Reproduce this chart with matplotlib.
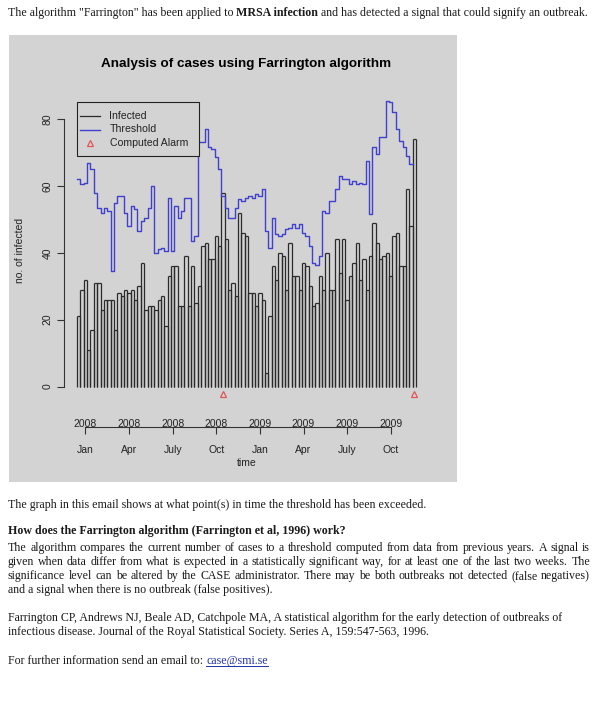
import numpy as np
import matplotlib
matplotlib.use('Agg')
from matplotlib import pyplot as plt
from matplotlib.lines import Line2D
from matplotlib.patches import Rectangle

# Weekly data (week index 0 = first week shown)
weeks = np.arange(101)
infected = [21, 29, 32, 11, 17, 31, 31, 23, 26, 26,
            26, 17, 28, 27, 29, 28, 29, 26, 30, 37,
            23, 24, 24, 23, 26, 27, 18, 33, 36, 36,
            24, 24, 39, 24, 36, 25, 30, 42, 43, 38,
            38, 45, 42, 58, 44, 29, 31, 27, 52, 46,
            45, 28, 28, 24, 28, 26, 4, 21, 36, 32,
            40, 39, 29, 43, 33, 33, 29, 37, 36, 30,
            24, 25, 33, 29, 40, 29, 29, 44, 34, 44,
            26, 33, 37, 43, 32, 38, 29, 39, 49, 43,
            38, 39, 40, 33, 45, 46, 36, 36, 59, 48,
            74]
threshold = [62, 60.5, 61, 67, 65, 58, 53.5, 52, 53.5, 52.5,
             34.5, 55, 57, 57, 52, 48, 54, 53, 46.5, 49.5,
             50.5, 53.5, 60, 40, 41, 41.5, 40.5, 56.5, 40.5, 54,
             50.5, 52.5, 56.5, 56.5, 43.5, 45, 73, 73, 77, 71.5,
             71, 68.5, 65, 57, 53.5, 50.5, 50.5, 53.5, 56, 55.5,
             56.5, 57, 56.5, 57.5, 57, 59, 46.5, 41.5, 50.5, 45.5,
             45, 45.5, 47, 47.5, 48.5, 47.5, 48.5, 46, 45, 42,
             37, 36.5, 39, 52.5, 52, 55.5, 55.5, 59, 63, 62,
             62, 60.5, 61.5, 60.5, 61, 60.5, 67.5, 51.5, 71.5, 69.5,
             74.5, 74.5, 85.5, 85, 82, 77, 73.5, 71.5, 69, 66.5,
             66.5]
alarm_weeks = [43, 100]

# Time axis
tick_weeks = [2, 15, 28, 41, 54, 67, 80, 93]
month_labels = ['Jan', 'Apr', 'July', 'Oct', 'Jan', 'Apr', 'July', 'Oct']
year_labels = ['2008', '2008', '2008', '2008', '2009', '2009', '2009', '2009']

legend_labels = ['Infected', 'Threshold', 'Computed Alarm']

W, H = 600, 707
fx = lambda px: px / W
fy = lambda py: 1 - py / H

sans = 'Liberation Sans'
serif = 'Liberation Serif'
grey = '#d3d3d3'
bar_col = '#2a2a2a'
thr_col = '#3f3fd0'
alarm_col = '#e05555'

fig = plt.figure(figsize=(W / 100, H / 100), dpi=100)
fig.patch.set_facecolor('white')

# Grey panel behind the R chart
fig.add_artist(Rectangle((fx(9), fy(482)), (457 - 9) / W, (482 - 35) / H,
                         transform=fig.transFigure, facecolor=grey,
                         edgecolor='none', zorder=0))

ax = fig.add_axes([fx(63.5), fy(398), (429.5 - 63.5) / W, (398 - 89.2) / H])
ax.set_facecolor('none')
ax.set_xlim(-4.54, 104.54)
ax.set_ylim(-3.42, 88.92)

# Infected: outlined weekly bars
x = np.array(weeks)
ax.vlines(x - 0.5, 0, infected, color=bar_col, lw=0.9)
ax.vlines(x + 0.5, 0, infected, color=bar_col, lw=0.9)
ax.hlines(infected, x - 0.5, x + 0.5, color=bar_col, lw=0.9)

# Threshold as a step line
ax.plot(x - 0.5, threshold, drawstyle='steps-post', color=thr_col, lw=1.0)

# Alarms
ax.plot(alarm_weeks, [-2.3] * len(alarm_weeks), linestyle='none', marker='^',
        markersize=5, markerfacecolor='none', markeredgecolor=alarm_col, mew=0.9)

for s in ['top', 'right', 'bottom']:
    ax.spines[s].set_visible(False)
ax.spines['left'].set_bounds(0, 80)
ax.spines['left'].set_color('#333333')
ax.set_xticks([])
ax.set_yticks([0, 20, 40, 60, 80])
ax.tick_params(axis='y', length=5, width=0.8, color='#333333', pad=3,
               labelsize=7.5, labelcolor='#222222')
for lab in ax.get_yticklabels():
    lab.set_rotation(90)
    lab.set_va('center')
    lab.set_family(sans)

ax.set_title('Analysis of cases using Farrington algorithm', fontsize=9.7,
             fontweight='bold', family=sans, pad=0, y=(398 - 67.5) / (398 - 89.2))

# Legend box drawn by hand (R style, opaque, top left)
fig.add_artist(Rectangle((fx(76.7), fy(155.7)), (199 - 76.7) / W, (155.7 - 101.7) / H,
                         transform=fig.transFigure, facecolor=grey,
                         edgecolor='#222222', lw=0.8, zorder=5))
row_y = [116, 129.5, 143]
fig.add_artist(Line2D([fx(80), fx(100)], [fy(row_y[0])] * 2, transform=fig.transFigure,
                      color=bar_col, lw=0.9, zorder=6))
fig.add_artist(Line2D([fx(80), fx(100)], [fy(row_y[1])] * 2, transform=fig.transFigure,
                      color=thr_col, lw=1.0, zorder=6))
fig.add_artist(Line2D([fx(90)], [fy(row_y[2])], transform=fig.transFigure,
                      linestyle='none', marker='^', markersize=5,
                      markerfacecolor='none', markeredgecolor=alarm_col, mew=0.9, zorder=6))
for ry, lbl in zip(row_y, legend_labels):
    fig.text(fx(109.5), fy(ry), lbl, va='center', ha='left', family=sans,
             fontsize=7.6, color='#222222', zorder=6)

# Time axis below the bars
ax2 = fig.add_axes([fx(63.5), fy(427.3), (429.5 - 63.5) / W, 0.0001])
ax2.set_facecolor('none')
ax2.set_xlim(ax.get_xlim())
ax2.set_yticks([])
for s in ['top', 'right', 'left']:
    ax2.spines[s].set_visible(False)
ax2.spines['bottom'].set_bounds(tick_weeks[0], tick_weeks[-1])
ax2.spines['bottom'].set_color('#333333')
ax2.set_xticks(tick_weeks)
ax2.set_xticklabels(month_labels, family=sans, fontsize=7.5, color='#222222')
ax2.tick_params(axis='x', length=5, width=0.8, color='#333333', pad=8)
tr = matplotlib.transforms.blended_transform_factory(ax2.transData, fig.transFigure)
for w, yl in zip(tick_weeks, year_labels):
    ax2.text(w, fy(427), yl, transform=tr, ha='center', va='baseline',
             family=sans, fontsize=7.5, color='#222222')

fig.text(fx(246.5), fy(462.7), 'time', ha='center', va='center',
         family=sans, fontsize=7.5, color='#222222')
fig.text(fx(20), fy(250), 'no. of infected', rotation=90, ha='center',
         va='center', family=sans, fontsize=7.5, color='#222222')

# Email text
renderer = fig.canvas.get_renderer()
tsize = 8.6
tcol = '#1a1a1a'


def put_runs(x0, y, runs):
    xpos = x0
    for s, weight in runs:
        t = fig.text(fx(xpos), fy(y), s, fontsize=tsize, fontweight=weight,
                     family=serif, va='baseline', color=tcol)
        xpos += t.get_window_extent(renderer).width
    return xpos


def put_justified(x0, x1, y, line):
    words = line.split()
    texts = [fig.text(0, fy(y), w, fontsize=tsize, family=serif,
                      va='baseline', color=tcol) for w in words]
    widths = [t.get_window_extent(renderer).width for t in texts]
    gap = (x1 - x0 - sum(widths)) / (len(words) - 1)
    xpos = x0
    for t, wd in zip(texts, widths):
        t.set_x(fx(xpos))
        xpos += wd + gap


put_runs(8, 16, [('The algorithm "Farrington" has been applied to ', 'normal'),
                 ('MRSA infection', 'bold'),
                 (' and has detected a signal that could signify an outbreak.', 'normal')])

put_runs(8, 508, [('The graph in this email shows at what point(s) in time the threshold has been exceeded.', 'normal')])
put_runs(8, 534, [('How does the Farrington algorithm (Farrington et al, 1996) work?', 'bold')])

para = ['The algorithm compares the current number of cases to a threshold computed from data from previous years. A signal is',
        'given when data differ from what is expected in a statistically significant way, for at least one of the last two weeks. The',
        'significance level can be altered by the CASE administrator. There may be both outbreaks not detected (false negatives)']
for i, line in enumerate(para):
    put_justified(8, 590, 551 + 14 * i, line)
put_runs(8, 593, [('and a signal when there is no outbreak (false positives).', 'normal')])

put_runs(8, 621, [('Farrington CP, Andrews NJ, Beale AD, Catchpole MA, A statistical algorithm for the early detection of outbreaks of', 'normal')])
put_runs(8, 635, [('infectious disease. Journal of the Royal Statistical Society. Series A, 159:547-563, 1996.', 'normal')])

x_link = put_runs(8, 664, [('For further information send an email to: ', 'normal')])
link = fig.text(fx(x_link), fy(664), 'case@smi.se', fontsize=tsize, family=serif,
                va='baseline', color='#2233aa')
x_end = x_link + link.get_window_extent(renderer).width
fig.add_artist(Line2D([fx(x_link), fx(x_end)], [fy(666), fy(666)],
                      transform=fig.transFigure, color='#2233aa', lw=0.7))

plt.savefig('out.png', dpi=100)
